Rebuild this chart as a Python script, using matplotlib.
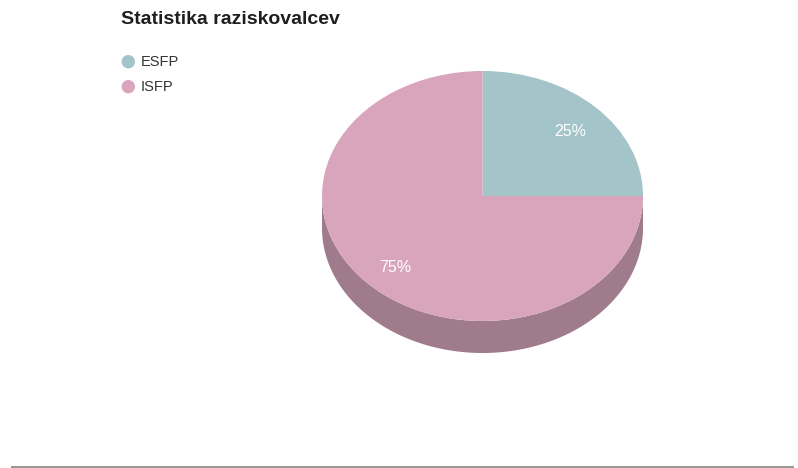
import numpy as np
import matplotlib
matplotlib.use("Agg")
import matplotlib.pyplot as plt
from matplotlib.patches import Wedge, Polygon, Circle
from matplotlib.transforms import Affine2D

plt.rcParams['font.family'] = ['Liberation Sans', 'DejaVu Sans']

title = "Statistika raziskovalcev"
categories = ["ESFP", "ISFP"]
values = [25, 75]
colors = ["#a3c4c9", "#d8a5bc"]
side_color = "#a07b8c"

W, H = 798, 468
fig = plt.figure(figsize=(W / 100, H / 100), dpi=100)
ax = fig.add_axes([0, 0, 1, 1])
ax.set_xlim(0, W)
ax.set_ylim(H, 0)
ax.axis("off")

# ellipse geometry of the pie top, in pixel units
cx, cy, rx, ry, depth = 482.5, 196, 160.5, 125, 32
to_pix = Affine2D().scale(rx, -ry).translate(cx, cy) + ax.transData

# side band (front half of the cylinder)
t = np.linspace(np.pi, 2 * np.pi, 200)
top = np.column_stack([cx + rx * np.cos(t), cy - ry * np.sin(t)])
bot = top[::-1] + [0, depth]
ax.add_patch(Polygon(np.vstack([top, bot]), closed=True, facecolor=side_color,
                     edgecolor="none", zorder=1))

# slices clockwise from 12 o'clock
total = sum(values)
start = 90.0
for v, c in zip(values, colors):
    span = 360.0 * v / total
    w = Wedge((0, 0), 1, start - span, start, facecolor=c, edgecolor="none",
              transform=to_pix, zorder=2)
    ax.add_patch(w)
    mid = np.deg2rad(start - span / 2)
    f = 0.77
    ax.text(cx + rx * f * np.cos(mid), cy - ry * f * np.sin(mid) + 3.5,
            f"{round(100 * v / total)}%", color="white", fontsize=11.5,
            ha="center", va="center", zorder=3)
    start -= span

# title
ax.text(121, 20, title, fontsize=14, fontweight="bold", color="#1e1e1e",
        ha="left", va="center")

# legend
for i, (lab, c) in enumerate(zip(categories, colors)):
    y = 61.7 + i * 25
    ax.add_patch(Circle((128.3, y), 6.7, facecolor=c, edgecolor="none"))
    ax.text(141, y, lab, fontsize=10.5, color="#333333", ha="left", va="center")

# bottom rule
ax.plot([11, 794], [466.5, 466.5], color="#999999", lw=1.5, solid_capstyle="butt")

fig.savefig("out.png", dpi=100)
